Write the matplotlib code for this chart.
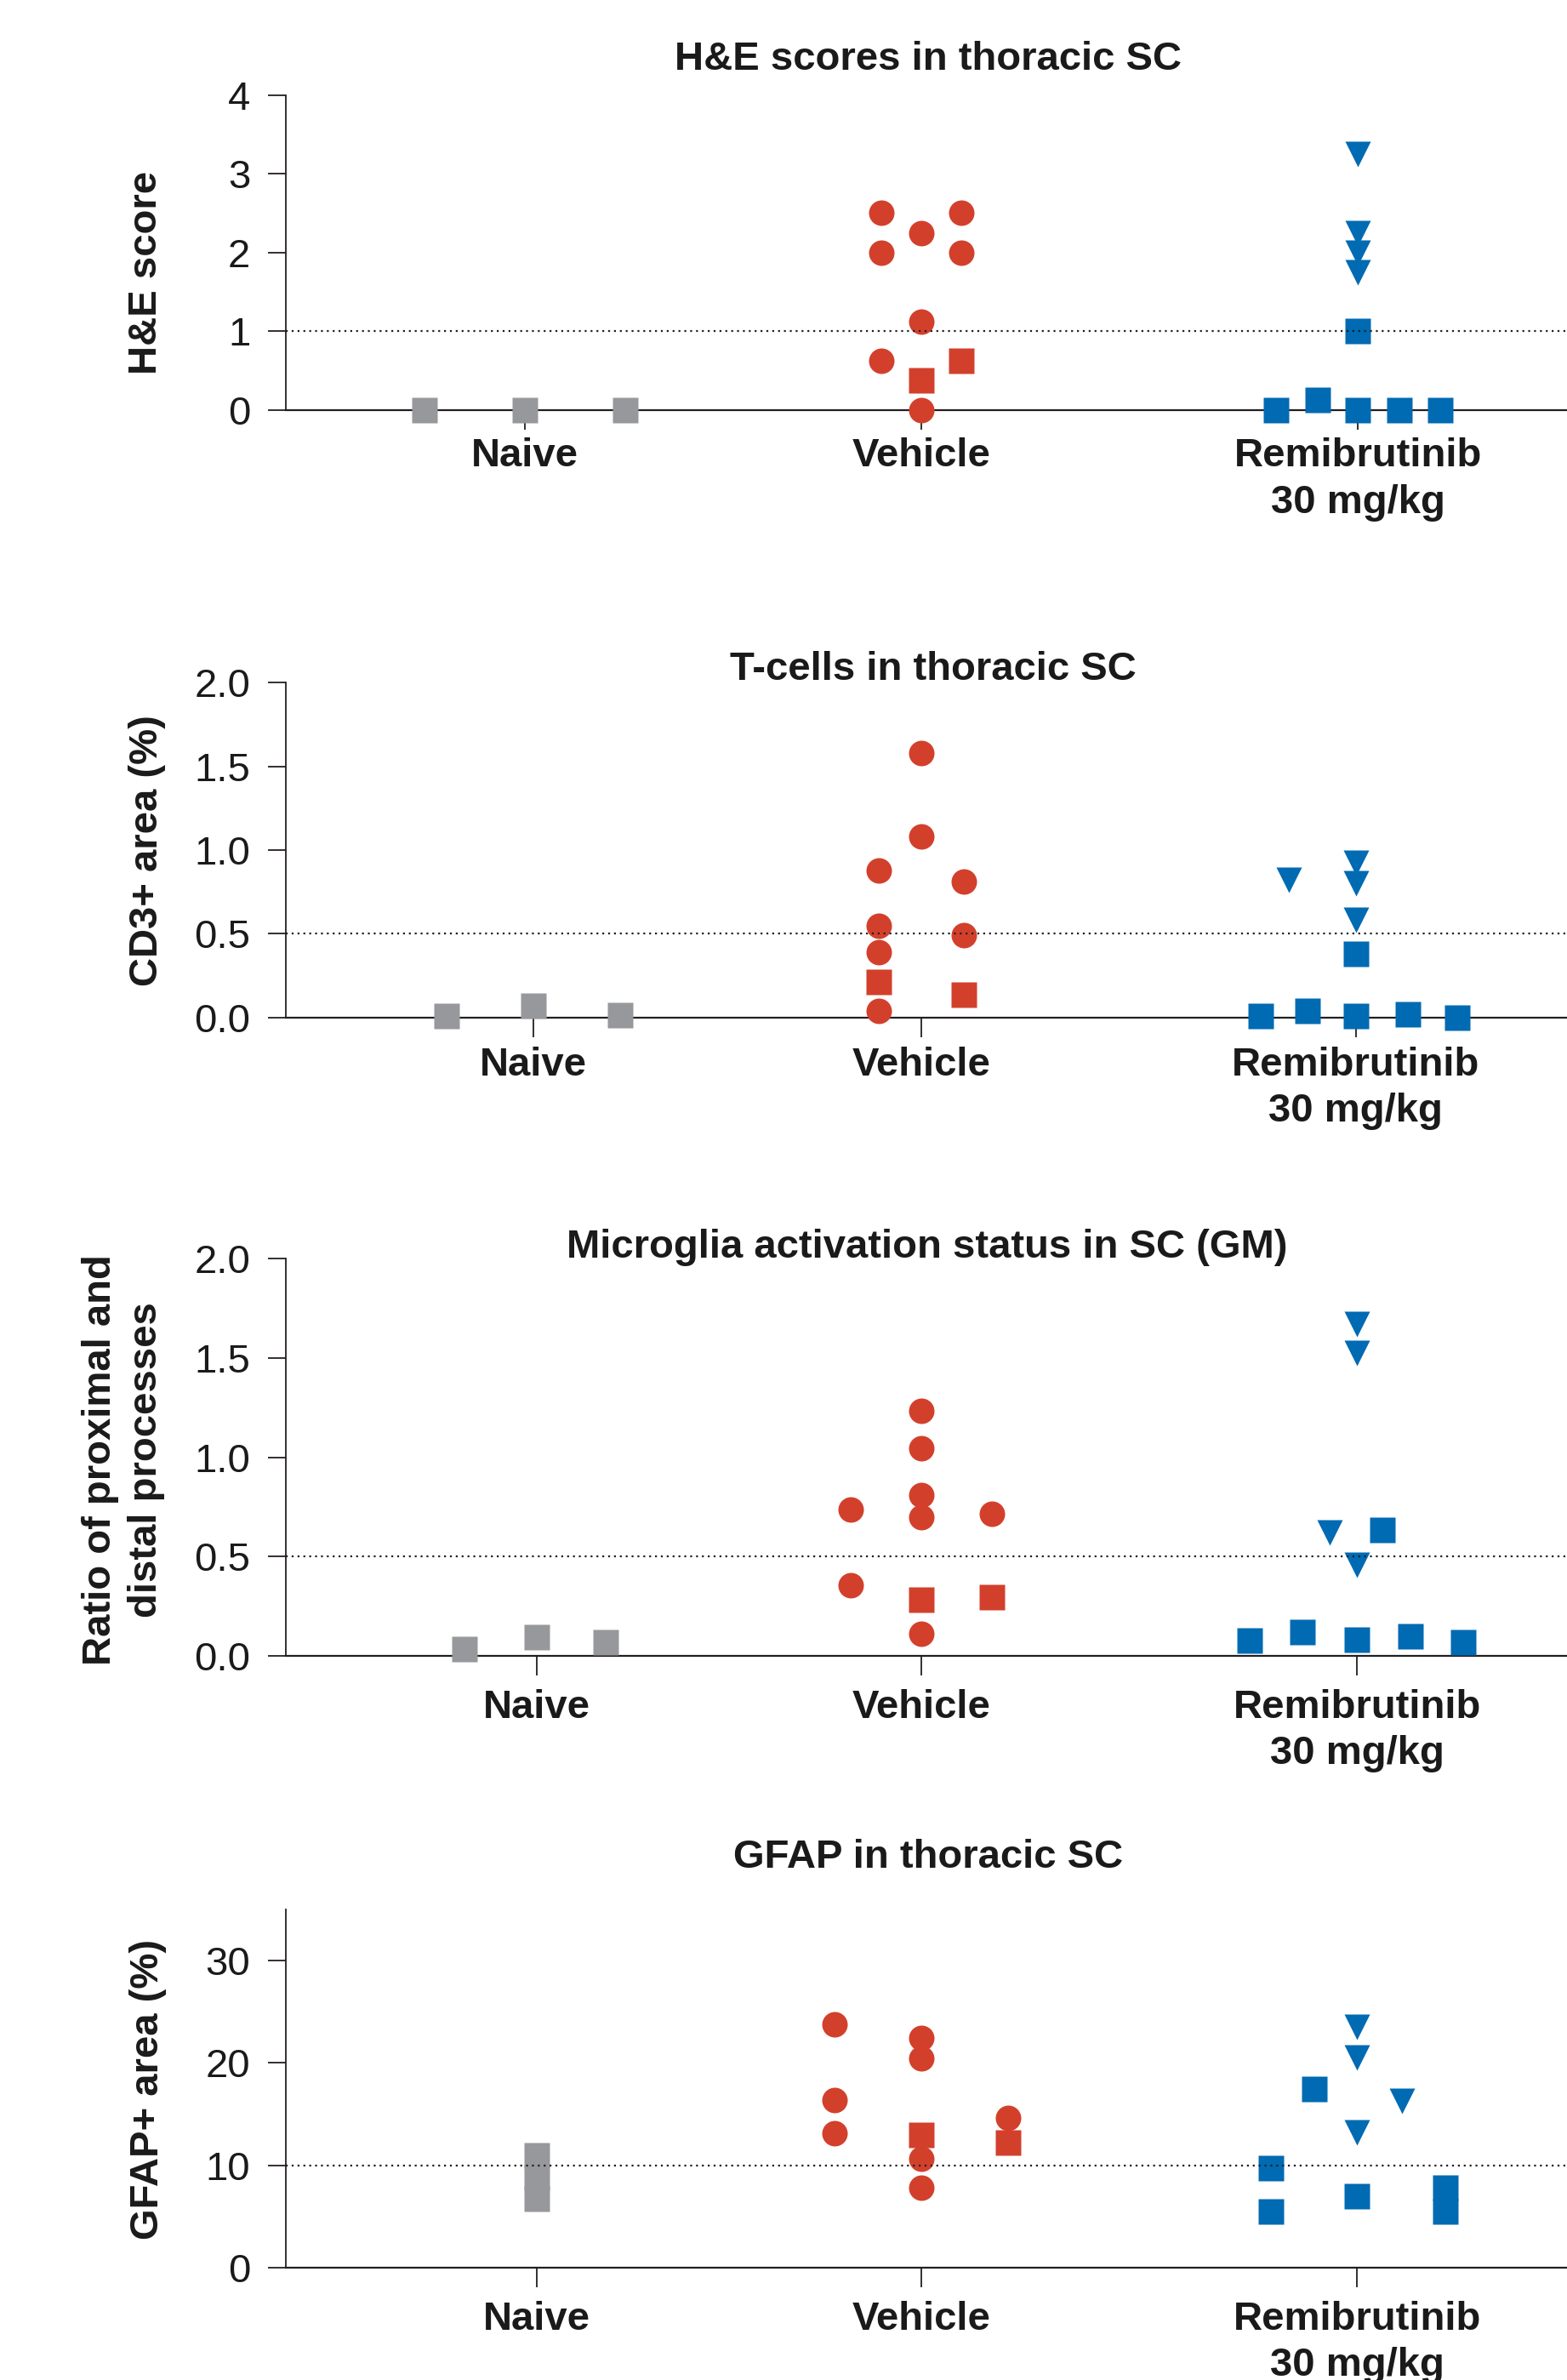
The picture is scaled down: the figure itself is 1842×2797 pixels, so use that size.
import matplotlib
matplotlib.use('Agg')
import matplotlib.pyplot as plt

plt.rcParams['font.family'] = ['Liberation Sans', 'DejaVu Sans']

W, H = 1842, 2797
groups = ['Naive', 'Vehicle', 'Remibrutinib\n30 mg/kg']
grey, red, blue = '#97989B', '#D2402C', '#006AB2'
ink = '#231F20'

# ---- H&E scores in thoracic SC
he_naive_sq = [0, 0, 0]
he_veh_circ = [2.5, 2.5, 2.25, 2.0, 2.0, 1.125, 0.625, 0.0]
he_veh_sq = [0.375, 0.625]
he_rem_tri = [3.25, 2.25, 2.0, 1.75]
he_rem_sq = [1.0, 0.0, 0.125, 0.0, 0.0, 0.0]
# horizontal scatter offsets (column spreading)
he_naive_dx = [-0.26, 0, 0.26]
he_veh_circ_dx = [-0.104, 0.104, 0, -0.104, 0.104, 0, -0.104, 0]
he_veh_sq_dx = [0, 0.104]
he_rem_tri_dx = [0, 0, 0, 0]
he_rem_sq_dx = [0, -0.212, -0.104, 0, 0.108, 0.215]

# ---- T-cells in thoracic SC
cd3_naive_sq = [0.01, 0.07, 0.015]
cd3_veh_circ = [1.58, 1.08, 0.875, 0.81, 0.545, 0.49, 0.39, 0.04]
cd3_veh_sq = [0.21, 0.135]
cd3_rem_tri = [0.82, 0.925, 0.80, 0.58]
cd3_rem_sq = [0.38, 0.01, 0.04, 0.01, 0.02, 0.0]
cd3_naive_dx = [-0.226, 0, 0.226]
cd3_veh_circ_dx = [0, 0, -0.11, 0.11, -0.11, 0.11, -0.11, -0.11]
cd3_veh_sq_dx = [-0.11, 0.11]
cd3_rem_tri_dx = [-0.175, 0, 0, 0]
cd3_rem_sq_dx = [0, -0.248, -0.126, 0, 0.135, 0.263]

# ---- Microglia activation status in SC (GM)
mg_naive_sq = [0.035, 0.095, 0.07]
mg_veh_circ = [1.235, 1.045, 0.81, 0.735, 0.70, 0.715, 0.355, 0.115]
mg_veh_sq = [0.285, 0.295]
mg_rem_tri = [1.67, 1.525, 0.62, 0.46]
mg_rem_sq = [0.635, 0.08, 0.12, 0.085, 0.10, 0.07]
mg_naive_dx = [-0.188, 0, 0.18]
mg_veh_circ_dx = [0, 0, 0, -0.184, 0, 0.184, -0.184, 0]
mg_veh_sq_dx = [0, 0.184]
mg_rem_tri_dx = [0, 0, -0.071, 0]
mg_rem_sq_dx = [0.066, -0.279, -0.142, 0, 0.139, 0.277]

# ---- GFAP in thoracic SC
gf_naive_sq = [11.0, 8.8, 6.7]
gf_veh_circ = [23.75, 16.4, 13.15, 22.45, 20.45, 10.65, 7.8, 14.6]
gf_veh_sq = [13.0, 12.25]
gf_rem_tri = [23.5, 20.5, 13.2, 16.3]
gf_rem_sq = [17.5, 9.75, 5.45, 7.0, 7.8, 5.5]
gf_naive_dx = [0, 0, 0]
gf_veh_circ_dx = [-0.226, -0.226, -0.226, 0, 0, 0, 0, 0.226]
gf_veh_sq_dx = [0, 0.226]
gf_rem_tri_dx = [0, 0, 0, 0.117]
gf_rem_sq_dx = [-0.111, -0.224, -0.224, 0, 0.23, 0.23]

panels = [
    dict(title='H&E scores in thoracic SC', ylabel='H&E score',
         ylim=(0, 4), yticks=[0, 1, 2, 3, 4], fmt='{:.0f}', ref=1.0,
         xpos=[-0.031, 1.0, 2.135], top=111.6, bottom=481.7, xpad=7,
         title_xy=(1091, 82), ylab_xy=(172, 320),
         series=[(0, he_naive_sq, he_naive_dx, 's', grey),
                 (1, he_veh_circ, he_veh_circ_dx, 'o', red),
                 (1, he_veh_sq, he_veh_sq_dx, 's', red),
                 (2, he_rem_tri, he_rem_tri_dx, 'v', blue),
                 (2, he_rem_sq, he_rem_sq_dx, 's', blue)]),
    dict(title='T-cells in thoracic SC', ylabel='CD3+ area (%)',
         ylim=(0, 2), yticks=[0, 0.5, 1.0, 1.5, 2.0], fmt='{:.1f}', ref=0.5,
         xpos=[-0.009, 1.0, 2.13], top=802.2, bottom=1195.5, xpad=8.5,
         title_xy=(1097, 799), ylab_xy=(173, 1000),
         series=[(0, cd3_naive_sq, cd3_naive_dx, 's', grey),
                 (1, cd3_veh_circ, cd3_veh_circ_dx, 'o', red),
                 (1, cd3_veh_sq, cd3_veh_sq_dx, 's', red),
                 (2, cd3_rem_tri, cd3_rem_tri_dx, 'v', blue),
                 (2, cd3_rem_sq, cd3_rem_sq_dx, 's', blue)]),
    dict(title='Microglia activation status in SC (GM)',
         ylabel='Ratio of proximal and\ndistal processes',
         ylim=(0, 2), yticks=[0, 0.5, 1.0, 1.5, 2.0], fmt='{:.1f}', ref=0.5,
         xpos=[0.0, 1.0, 2.133], top=1478.6, bottom=1946.4, xpad=11.5,
         title_xy=(1090, 1478), ylab_xy=(145, 1716),
         series=[(0, mg_naive_sq, mg_naive_dx, 's', grey),
                 (1, mg_veh_circ, mg_veh_circ_dx, 'o', red),
                 (1, mg_veh_sq, mg_veh_sq_dx, 's', red),
                 (2, mg_rem_tri, mg_rem_tri_dx, 'v', blue),
                 (2, mg_rem_sq, mg_rem_sq_dx, 's', blue)]),
    dict(title='GFAP in thoracic SC', ylabel='GFAP+ area (%)',
         ylim=(0, 35), yticks=[0, 10, 20, 30], fmt='{:.0f}', ref=10,
         xpos=[0.0, 1.0, 2.133], top=2244, bottom=2665, xpad=11.5,
         title_xy=(1091, 2195), ylab_xy=(174, 2455),
         series=[(0, gf_naive_sq, gf_naive_dx, 's', grey),
                 (1, gf_veh_circ, gf_veh_circ_dx, 'o', red),
                 (1, gf_veh_sq, gf_veh_sq_dx, 's', red),
                 (2, gf_rem_tri, gf_rem_tri_dx, 'v', blue),
                 (2, gf_rem_sq, gf_rem_sq_dx, 's', blue)]),
]

fig = plt.figure(figsize=(W / 100, H / 100), dpi=100)
left = 336 / W
xlim = (-0.6527, 2.679)
fs = 34

for p in panels:
    ax = fig.add_axes([left, 1 - p['bottom'] / H, 1 - left,
                       (p['bottom'] - p['top']) / H])
    ax.set_xlim(*xlim)
    ax.set_ylim(*p['ylim'])
    for s in ['top', 'right']:
        ax.spines[s].set_visible(False)
    ax.spines['left'].set_linewidth(1.3)
    ax.spines['bottom'].set_linewidth(1.6)
    ax.spines['left'].set_color(ink)
    ax.spines['bottom'].set_color(ink)

    ax.axhline(p['ref'], color=ink, lw=1.6, ls=(0, (1, 2.1)), zorder=4)
    for g, vals, dx, m, c in p['series']:
        x0 = p['xpos'][g]
        ax.plot([x0 + d for d in dx], vals, ls='none', marker=m, ms=21.6,
                mfc=c, mec='none', clip_on=False, zorder=3)

    ax.set_yticks(p['yticks'])
    ax.set_yticklabels([p['fmt'].format(t) for t in p['yticks']], fontsize=fs)
    ax.set_xticks(p['xpos'])
    ax.set_xticklabels(groups, fontsize=fs, fontweight='bold', linespacing=1.3)
    ax.tick_params(axis='y', length=15, width=1.3, pad=15, colors=ink)
    ax.tick_params(axis='x', length=16.5, width=1.3, pad=p['xpad'], colors=ink)
    for lab in ax.get_xticklabels() + ax.get_yticklabels():
        lab.set_color('#1a1a1a')

    tx, ty = p['title_xy']
    fig.text(tx / W, 1 - ty / H, p['title'], ha='center', va='baseline',
             fontsize=fs, fontweight='bold', color='#1a1a1a')
    lx, ly = p['ylab_xy']
    fig.text(lx / W, 1 - ly / H, p['ylabel'], ha='center', va='center',
             rotation=90, fontsize=fs, fontweight='bold', linespacing=1.3,
             color='#1a1a1a')

fig.savefig('out.png', dpi=100)
